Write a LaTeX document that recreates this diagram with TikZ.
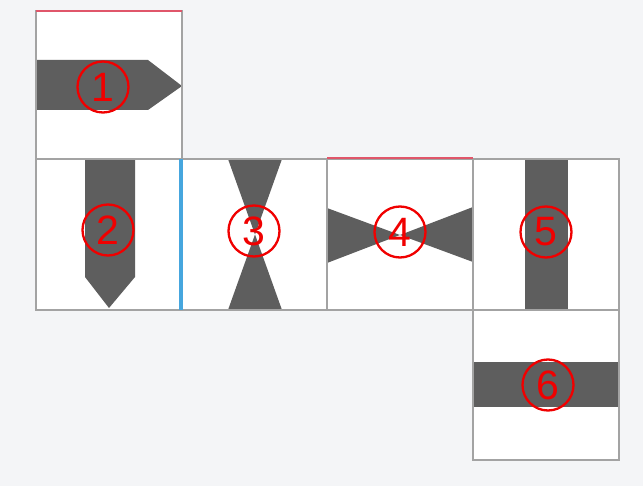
\documentclass[tikz,border=0pt]{standalone}
\usepackage{fontspec}
\setmainfont{Liberation Sans}
\definecolor{bg}{HTML}{F4F5F7}
\definecolor{edge}{HTML}{A3A3A3}
\definecolor{dark}{HTML}{5E5E5E}
\definecolor{redline}{HTML}{E0566A}
\definecolor{blueline}{HTML}{46A6DE}
\definecolor{numred}{HTML}{F00000}
\begin{document}
\begin{tikzpicture}[x=1pt,y=-1pt,
  face/.style={fill=white,draw=edge,line width=1.6pt},
  band/.style={fill=dark,draw=none},
  num/.style={circle,draw=numred,line width=2.3pt,text=numred,minimum size=51pt,inner sep=0pt,font=\fontsize{41}{41}\selectfont}]
\useasboundingbox (0,0) rectangle (643,486);
\fill[bg] (0,0) rectangle (643,486);
% faces fill
\fill[white] (36,11) rectangle (182,159);
\fill[white] (36,159) rectangle (619,310);
\fill[white] (473,310) rectangle (619,460);
% dark shapes
\fill[dark] (36,60) -- (148,60) -- (182,86) -- (148,110) -- (36,110) -- cycle;
\fill[dark] (85,159) -- (135,159) -- (135,277) -- (109,308) -- (85,277) -- cycle;
\fill[dark] (228,159) -- (282,159) -- (255,234.5) -- cycle;
\fill[dark] (228,310) -- (282,310) -- (255,234.5) -- cycle;
\fill[dark] (327,208) -- (400,235) -- (327,263) -- cycle;
\fill[dark] (473,207) -- (400,235) -- (473,262) -- cycle;
\fill[dark] (525,159) rectangle (568,310);
\fill[dark] (473,362) rectangle (619,407);
% borders
\draw[edge,line width=2pt] (36,11) rectangle (182,159);
\draw[edge,line width=2pt] (36,159) rectangle (619,310);
\draw[edge,line width=2pt] (327,159) -- (327,310);
\draw[edge,line width=2pt] (473,159) -- (473,310);
\draw[edge,line width=2pt] (473,310) rectangle (619,460);
% colored edges
\draw[redline,line width=2.4pt] (36,11) -- (182,11);
\draw[redline,line width=2.4pt] (327,158) -- (473,158);
\draw[blueline,line width=3.5pt] (181,159) -- (181,310);
% numbers
\node[num] (n1) at (103,87) {1};
\node[num] (n2) at (108,230) {2};
\node[num] (n3) at (254,231) {3};
\node[num] (n4) at (400,232) {4};
\node[num] (n5) at (546,232) {5};
\node[num] (n6) at (548,385) {6};
\end{tikzpicture}
\end{document}
